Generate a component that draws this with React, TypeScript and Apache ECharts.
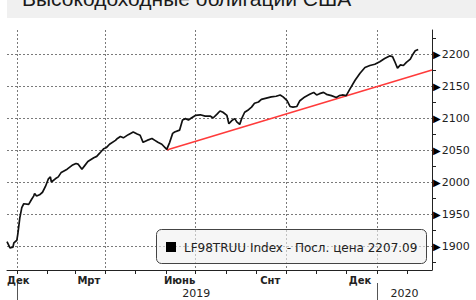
import React, { useEffect, useRef } from 'react';
import * as echarts from 'echarts';

const TITLE = 'Высокодоходные облигации США';
const START_DATE = '2018-12-22';
const END_DATE = '2020-02-26';
const MONTHS_RU = ['Янв', 'Фев', 'Мрт', 'Апр', 'Май', 'Июнь', 'Июль', 'Авг', 'Снт', 'Окт', 'Нбр', 'Дек'];
const LABELLED_MONTHS = [2, 5, 8, 11];
const QUARTER_STARTS = ['01-01', '04-01', '07-01', '10-01'];
const LEGEND_TEXT = 'LF98TRUU Index - Посл. цена 2207.09';

const indexDates = [
  '2018-12-22', '2018-12-25', '2018-12-28', '2018-12-29', '2019-01-01', '2019-01-02', '2019-01-04', '2019-01-06',
  '2019-01-08', '2019-01-13', '2019-01-16', '2019-01-18', '2019-01-19', '2019-01-21', '2019-01-24', '2019-01-27',
  '2019-01-30', '2019-02-02', '2019-02-04', '2019-02-05', '2019-02-09', '2019-02-12', '2019-02-15', '2019-02-21',
  '2019-02-26', '2019-03-02', '2019-03-04', '2019-03-08', '2019-03-11', '2019-03-14', '2019-03-20', '2019-03-23',
  '2019-03-26', '2019-03-30', '2019-04-02', '2019-04-05', '2019-04-11', '2019-04-13', '2019-04-16', '2019-04-19',
  '2019-04-24', '2019-04-29', '2019-05-03', '2019-05-06', '2019-05-09', '2019-05-13', '2019-05-18', '2019-05-21',
  '2019-05-24', '2019-05-28', '2019-06-02', '2019-06-05', '2019-06-08', '2019-06-10', '2019-06-15', '2019-06-18',
  '2019-06-21', '2019-06-24', '2019-06-27', '2019-07-01', '2019-07-06', '2019-07-11', '2019-07-16', '2019-07-19',
  '2019-07-23', '2019-07-26', '2019-07-29', '2019-08-02', '2019-08-04', '2019-08-07', '2019-08-10', '2019-08-12',
  '2019-08-15', '2019-08-17', '2019-08-20', '2019-08-24', '2019-08-27', '2019-08-30', '2019-09-03', '2019-09-06',
  '2019-09-11', '2019-09-16', '2019-09-21', '2019-09-25', '2019-09-28', '2019-10-02', '2019-10-05', '2019-10-08',
  '2019-10-12', '2019-10-15', '2019-10-20', '2019-10-25', '2019-10-29', '2019-11-01', '2019-11-04', '2019-11-08',
  '2019-11-11', '2019-11-16', '2019-11-21', '2019-11-24', '2019-11-27', '2019-12-01', '2019-12-05', '2019-12-10',
  '2019-12-15', '2019-12-20', '2019-12-25', '2019-12-30', '2020-01-04', '2020-01-09', '2020-01-14', '2020-01-17',
  '2020-01-19', '2020-01-22', '2020-01-25', '2020-01-28', '2020-01-31', '2020-02-04', '2020-02-06', '2020-02-09',
  '2020-02-12',
];

const indexValues = [
  1907, 1897, 1898, 1905, 1909, 1919, 1944, 1960,
  1966, 1965, 1973, 1978, 1982, 1978, 1980, 1984,
  1993, 2005, 2008, 2000, 2005, 2008, 2015, 2020,
  2026, 2029, 2028, 2020, 2026, 2032, 2038, 2040,
  2045, 2052, 2054, 2059, 2065, 2068, 2071, 2069,
  2074, 2078, 2075, 2073, 2062, 2065, 2068, 2065,
  2062, 2059, 2051, 2062, 2076, 2078, 2081, 2097,
  2099, 2097, 2100, 2104, 2105, 2103, 2103, 2100,
  2106, 2111, 2109, 2104, 2091, 2096, 2099, 2094,
  2090, 2099, 2109, 2113, 2117, 2123, 2125, 2129,
  2131, 2133, 2134, 2136, 2133, 2127, 2118, 2117,
  2118, 2127, 2133, 2137, 2140, 2136, 2138, 2140,
  2137, 2135, 2132, 2135, 2136, 2135, 2146, 2159,
  2170, 2179, 2182, 2184, 2188, 2193, 2197, 2196,
  2189, 2178, 2183, 2182, 2187, 2192, 2198, 2205,
  2207.09,
];

const trendDates = ['2019-06-02', '2020-02-26'];
const trendValues = [2050, 2175];

function buildDays(start: string, end: string): string[] {
  const out: string[] = [];
  const d = new Date(start + 'T00:00:00Z');
  const e = new Date(end + 'T00:00:00Z');
  while (d <= e) {
    out.push(d.toISOString().slice(0, 10));
    d.setUTCDate(d.getUTCDate() + 1);
  }
  return out;
}

export default function App() {
  const ref = useRef<HTMLDivElement>(null);

  useEffect(() => {
    if (!ref.current) return;
    const chart = echarts.init(ref.current, undefined, { renderer: 'svg' });
    const days = buildDays(START_DATE, END_DATE);
    const idx = (d: string) => days.indexOf(d);

    // year label positions: middle of each year's visible span
    const years = Array.from(new Set(days.map((d) => d.slice(0, 4))));
    const yearLabelIdx: number[] = [];
    years.forEach((y) => {
      const first = days.findIndex((d) => d.slice(0, 4) === y);
      let last = -1;
      days.forEach((d, i) => { if (d.slice(0, 4) === y) last = i; });
      if (y === years[0]) return; // tiny visible piece of first year is unlabeled
      yearLabelIdx.push(Math.round((first + last) / 2));
    });

    const font = 'DejaVu Sans, Verdana, sans-serif';
    const gridDash = { type: [2, 2] as any, color: '#7a7a7a', width: 1 };

    chart.setOption({
      animation: false,
      backgroundColor: '#ffffff',
      grid: { left: 7, right: 44, top: 30, bottom: 30, containLabel: false },
      xAxis: [
        {
          type: 'category',
          data: days,
          boundaryGap: false,
          position: 'bottom',
          axisLine: { show: true, lineStyle: { color: '#222', width: 1 } },
          axisTick: {
            show: true, length: 4, inside: false,
            interval: (i: number, v: string) => v.slice(8) === '01',
            lineStyle: { color: '#222' },
          },
          axisLabel: {
            interval: (i: number, v: string) =>
              i === 0 || (v.slice(8) === '15' && LABELLED_MONTHS.includes(+v.slice(5, 7) - 1)),
            formatter: (v: string) => MONTHS_RU[+v.slice(5, 7) - 1],
            alignMinLabel: 'left',
            margin: 5,
            fontSize: 10,
            fontWeight: 'bold',
            color: '#222',
            fontFamily: font,
          },
          splitLine: {
            show: true,
            interval: (i: number, v: string) => QUARTER_STARTS.includes(v.slice(5)),
            lineStyle: gridDash,
          },
        },
        {
          type: 'category',
          data: days,
          boundaryGap: false,
          position: 'bottom',
          offset: 13,
          axisLine: { show: false },
          axisTick: {
            show: true, length: 17, inside: false,
            interval: (i: number, v: string) => v.slice(5) === '01-01',
            lineStyle: { color: '#555' },
          },
          axisLabel: {
            interval: (i: number) => yearLabelIdx.includes(i),
            formatter: (v: string) => v.slice(0, 4),
            margin: 5,
            fontSize: 11,
            color: '#222',
            fontFamily: font,
          },
          splitLine: { show: false },
        },
      ],
      yAxis: {
        type: 'value',
        position: 'right',
        min: 1862.5,
        max: 2237.5,
        splitNumber: 7,
        axisLine: { show: true, lineStyle: { color: '#222', width: 1 } },
        axisTick: { show: false },
        minorTick: { show: true, splitNumber: 2, length: 4, lineStyle: { color: '#222' } },
        axisLabel: {
          showMinLabel: false,
          showMaxLabel: false,
          margin: 1,
          formatter: (v: number) => '{t|▶}{n|' + v + '}',
          rich: {
            t: { fontSize: 10, color: '#000', fontFamily: font, padding: [0, 1, 0, 0] },
            n: { fontSize: 11, color: '#222', fontFamily: font },
          },
        },
        splitLine: { show: true, showMinLine: false, showMaxLine: false, lineStyle: gridDash },
      },
      series: [
        {
          type: 'line',
          xAxisIndex: 0,
          data: indexDates.map((d, i) => [idx(d), indexValues[i]]),
          showSymbol: false,
          symbol: 'none',
          lineStyle: { color: '#111', width: 1.7 },
          z: 3,
        },
        {
          type: 'line',
          xAxisIndex: 0,
          data: trendDates.map((d, i) => [idx(d), trendValues[i]]),
          showSymbol: false,
          symbol: 'none',
          lineStyle: { color: '#ff3b3b', width: 1.6 },
          z: 2,
        },
      ],
      graphic: [
        {
          type: 'rect',
          shape: { x: 7, y: 0, width: 469, height: 18 },
          style: { fill: '#f0f0f0' },
          z: 10,
        },
        {
          type: 'text',
          x: 22,
          y: 9,
          style: {
            text: TITLE,
            fontSize: 21,
            fontFamily: 'Liberation Sans, Arial, sans-serif',
            fill: '#1a1a1a',
            verticalAlign: 'bottom',
          },
          z: 11,
        },
        {
          type: 'rect',
          shape: { x: 156.5, y: 229.5, width: 270, height: 34, r: 5 },
          style: { fill: 'rgba(240,240,240,0.6)', stroke: '#444', lineWidth: 1 },
          z: 10,
        },
        {
          type: 'rect',
          shape: { x: 166, y: 242, width: 10, height: 10 },
          style: { fill: '#000' },
          z: 11,
        },
        {
          type: 'text',
          x: 184,
          y: 248,
          style: {
            text: LEGEND_TEXT,
            fontSize: 12,
            fontFamily: font,
            fill: '#222',
            verticalAlign: 'middle',
          },
          z: 11,
        },
      ],
    });
    return () => chart.dispose();
  }, []);

  return (
    <div
      ref={ref}
      style={{ position: 'fixed', left: 0, top: 0, width: 476, height: 300, background: '#fff' }}
    />
  );
}
